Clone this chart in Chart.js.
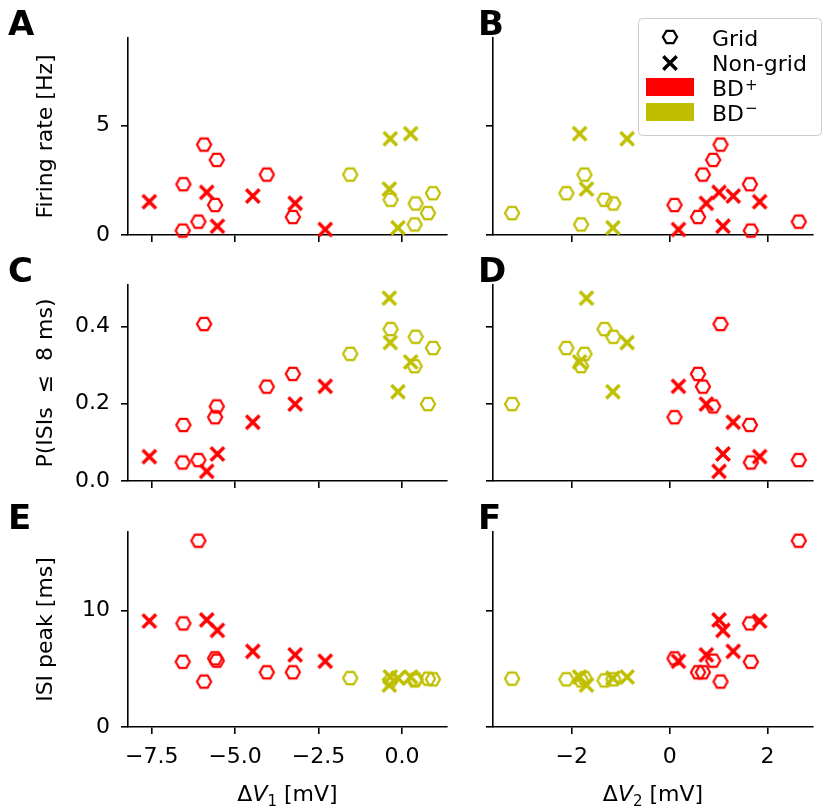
<!DOCTYPE html>
<html>
<head>
<meta charset="utf-8">
<script src="https://cdn.jsdelivr.net/npm/chart.js@4.4.1/dist/chart.umd.min.js"></script>
<style>
  html, body { margin: 0; padding: 0; background: #fff; }
  #wrap { position: relative; width: 826px; height: 810px; }
  #wrap canvas { position: absolute; left: 0; top: 0; }
</style>
</head>
<body>
<div id="wrap">
  <canvas id="pA" width="826" height="810"></canvas>
  <canvas id="pB" width="826" height="810"></canvas>
  <canvas id="pC" width="826" height="810"></canvas>
  <canvas id="pD" width="826" height="810"></canvas>
  <canvas id="pE" width="826" height="810"></canvas>
  <canvas id="pF" width="826" height="810"></canvas>
</div>
<script>
// --- data ---------------------------------------------------------------
// BD+ grid cells (red hexagons)
const bdPlusGridV1 = [-6.55, -6.57, -6.10, -5.93, -5.55, -5.60, -4.05, -3.27];
const bdPlusGridV2 = [1.64, 1.66, 2.64, 1.04, 0.89, 0.10, 0.68, 0.58];
const bdPlusGridRate = [2.32, 0.20, 0.61, 4.13, 3.43, 1.37, 2.76, 0.82];
const bdPlusGridPIsi = [0.145, 0.048, 0.054, 0.406, 0.193, 0.165, 0.244, 0.277];
const bdPlusGridPeak = [8.9, 5.6, 16.0, 3.9, 5.7, 5.9, 4.7, 4.7];

// BD+ non-grid cells (red crosses)
const bdPlusNonV1 = [-7.57, -5.85, -5.53, -4.47, -3.20, -2.30];
const bdPlusNonV2 = [1.84, 1.01, 1.09, 1.30, 0.75, 0.18];
const bdPlusNonRate = [1.52, 1.95, 0.40, 1.78, 1.45, 0.25];
const bdPlusNonPIsi = [0.063, 0.025, 0.070, 0.152, 0.199, 0.245];
const bdPlusNonPeak = [9.1, 9.2, 8.3, 6.5, 6.2, 5.65];

// BD- grid cells (olive hexagons)
const bdMinusGridV1 = [-1.55, -0.34, 0.41, 0.38, 0.93, 0.78];
const bdMinusGridV2 = [-1.74, -1.33, -1.15, -1.81, -2.11, -3.22];
const bdMinusGridRate = [2.76, 1.61, 1.44, 0.48, 1.91, 1.00];
const bdMinusGridPIsi = [0.329, 0.393, 0.373, 0.297, 0.344, 0.199];
const bdMinusGridPeak = [4.2, 4.0, 4.1, 4.0, 4.1, 4.15];

// BD- non-grid cells (olive crosses)
const bdMinusNonV1 = [-0.35, 0.26, -0.38, -0.12];
const bdMinusNonV2 = [-0.87, -1.84, -1.70, -1.16];
const bdMinusNonRate = [4.40, 4.63, 2.10, 0.33];
const bdMinusNonPIsi = [0.358, 0.308, 0.473, 0.231];
const bdMinusNonPeak = [4.3, 4.3, 3.6, 4.2];

// tick values
const tickV1 = [-7.5, -5, -2.5, 0];
const tickV2 = [-2, 0, 2];
const tickRate = [0, 5];
const tickPIsi = [0, 0.2, 0.4];
const tickPeak = [0, 10];

// --- look ------------------------------------------------------------------
const RED = "#ff0000";
const OLIVE = "#bfbf00";
const FONT = "'DejaVu Sans', sans-serif";
const FS = 22;

Chart.defaults.font.family = FONT;
Chart.defaults.color = "#000";

const el = (id) => document.getElementById(id);
const neg = (s) => s.replace("-", "\u2212");

// marker images (matplotlib 'H' hexagon and 'x')
function hexMarker(color) {
  const c = document.createElement("canvas");
  c.width = c.height = 22;
  const g = c.getContext("2d");
  g.strokeStyle = color;
  g.lineWidth = 2.2;
  g.beginPath();
  for (let k = 0; k < 6; k++) {
    const a = (k * Math.PI) / 3;
    const x = 11 + 7.1 * Math.cos(a), y = 11 + 7.1 * Math.sin(a);
    if (k === 0) g.moveTo(x, y); else g.lineTo(x, y);
  }
  g.closePath();
  g.stroke();
  return c;
}
function crossMarker(color) {
  const c = document.createElement("canvas");
  c.width = c.height = 22;
  const g = c.getContext("2d");
  g.strokeStyle = color;
  g.lineWidth = 3.4;
  g.beginPath();
  g.moveTo(11 - 6.7, 11 - 6.7); g.lineTo(11 + 6.7, 11 + 6.7);
  g.moveTo(11 + 6.7, 11 - 6.7); g.lineTo(11 - 6.7, 11 + 6.7);
  g.stroke();
  return c;
}

const groups = [
  { style: hexMarker(RED), v1: bdPlusGridV1, v2: bdPlusGridV2, rate: bdPlusGridRate, pIsi: bdPlusGridPIsi, peak: bdPlusGridPeak },
  { style: crossMarker(RED), v1: bdPlusNonV1, v2: bdPlusNonV2, rate: bdPlusNonRate, pIsi: bdPlusNonPIsi, peak: bdPlusNonPeak },
  { style: hexMarker(OLIVE), v1: bdMinusGridV1, v2: bdMinusGridV2, rate: bdMinusGridRate, pIsi: bdMinusGridPIsi, peak: bdMinusGridPeak },
  { style: crossMarker(OLIVE), v1: bdMinusNonV1, v2: bdMinusNonV2, rate: bdMinusNonRate, pIsi: bdMinusNonPIsi, peak: bdMinusNonPeak },
];

// plot-area edges in the page
const colLeft = [128, 493], colRight = [447, 813];
const rowTop = [38, 285, 532], rowBottom = [235, 481, 727];
const yAxisW = [99, 20];
const xAxisH = 50;

const xAxes = [
  { key: "v1", min: -8.21, max: 1.35, ticks: tickV1, fmt: (v) => neg(v.toFixed(1)), sub: "1" },
  { key: "v2", min: -3.61, max: 2.93, ticks: tickV2, fmt: (v) => neg(String(v)), sub: "2" },
];
const yAxes = [
  { key: "rate", min: 0, max: 9.0, ticks: tickRate, fmt: (v) => String(v), title: "Firing rate [Hz]" },
  { key: "pIsi", min: 0, max: 0.507, ticks: tickPIsi, fmt: (v) => v.toFixed(1), title: "P(ISIs  \u2264  8 ms)" },
  { key: "peak", min: 0, max: 16.75, ticks: tickPeak, fmt: (v) => String(v), title: "ISI peak [ms]" },
];

const panels = [
  { id: "pA", letter: "A", col: 0, row: 0 },
  { id: "pB", letter: "B", col: 1, row: 0, legend: true },
  { id: "pC", letter: "C", col: 0, row: 1 },
  { id: "pD", letter: "D", col: 1, row: 1 },
  { id: "pE", letter: "E", col: 0, row: 2 },
  { id: "pF", letter: "F", col: 1, row: 2 },
];

// --- extra drawing: panel letter, x title with italic V, legend -------------
function drawXTitle(ctx, area, sub) {
  const parts = [
    ["\u0394", FS + "px " + FONT, 0],
    ["V", "italic " + FS + "px " + FONT, 0],
    [sub, "15px " + FONT, 5],
    [" [mV]", FS + "px " + FONT, 0],
  ];
  ctx.textAlign = "left";
  ctx.textBaseline = "alphabetic";
  let w = 0;
  parts.forEach((p) => { ctx.font = p[1]; w += ctx.measureText(p[0]).width; });
  let x = (area.left + area.right) / 2 - w / 2;
  const y = area.bottom + 74;
  parts.forEach((p) => {
    ctx.font = p[1];
    ctx.fillText(p[0], x, y + p[2]);
    x += ctx.measureText(p[0]).width;
  });
}

function drawLegend(ctx) {
  const x0 = 638.5, y0 = 18.5, w = 183, h = 117, r = 4;
  ctx.beginPath();
  ctx.moveTo(x0 + r, y0);
  ctx.arcTo(x0 + w, y0, x0 + w, y0 + h, r);
  ctx.arcTo(x0 + w, y0 + h, x0, y0 + h, r);
  ctx.arcTo(x0, y0 + h, x0, y0, r);
  ctx.arcTo(x0, y0, x0 + w, y0, r);
  ctx.closePath();
  ctx.fillStyle = "rgba(255,255,255,0.8)";
  ctx.fill();
  ctx.strokeStyle = "#cccccc";
  ctx.lineWidth = 1;
  ctx.stroke();

  ctx.drawImage(hexMarker("#000"), 659, 26);
  ctx.drawImage(crossMarker("#000"), 659, 52);
  ctx.fillStyle = RED;
  ctx.fillRect(646, 78, 48, 18);
  ctx.fillStyle = OLIVE;
  ctx.fillRect(646, 103, 48, 18);

  ctx.fillStyle = "#000";
  ctx.textAlign = "left";
  ctx.textBaseline = "alphabetic";
  ctx.font = FS + "px " + FONT;
  ctx.fillText("Grid", 712, 46);
  ctx.fillText("Non-grid", 712, 71);
  const bdW = ctx.measureText("BD").width;
  ctx.fillText("BD", 712, 96);
  ctx.fillText("BD", 712, 121);
  ctx.font = "15px " + FONT;
  ctx.fillText("+", 712 + bdW + 1, 89.5);
  ctx.fillText("\u2212", 712 + bdW + 1, 113);
}

const panelExtras = {
  id: "panelExtras",
  afterDraw(chart, args, opts) {
    const ctx = chart.ctx;
    ctx.save();
    ctx.fillStyle = "#000";
    ctx.font = "bold 34px " + FONT;
    ctx.textAlign = "left";
    ctx.textBaseline = "alphabetic";
    ctx.fillText(opts.letter, opts.col === 0 ? 8 : 478, chart.chartArea.top - 3);
    if (opts.row === 2) drawXTitle(ctx, chart.chartArea, opts.sub);
    if (opts.legend) drawLegend(ctx);
    ctx.restore();
  },
};

// --- build the six panels ----------------------------------------------------
panels.forEach((p) => {
  const xa = xAxes[p.col];
  const ya = yAxes[p.row];

  const datasets = groups.map((g) => ({
    data: g[xa.key].map((x, i) => ({ x: x, y: g[ya.key][i] })),
    pointStyle: g.style,
    pointRadius: 8,
    showLine: false,
    clip: false,
  }));

  const axisLine = { display: true, color: "#000", width: 1.6 };
  const tickMarks = { drawOnChartArea: false, drawTicks: true, tickLength: 7, color: "#000", lineWidth: 1.6 };

  new Chart(el(p.id), {
    type: "scatter",
    data: { datasets },
    options: {
      responsive: false,
      animation: false,
      events: [],
      layout: {
        padding: {
          left: colLeft[p.col] - yAxisW[p.col],
          top: rowTop[p.row],
          right: 826 - colRight[p.col],
          bottom: 810 - rowBottom[p.row] - xAxisH,
        },
      },
      plugins: {
        legend: { display: false },
        tooltip: { enabled: false },
        panelExtras: { letter: p.letter, col: p.col, row: p.row, sub: xa.sub, legend: !!p.legend },
      },
      scales: {
        x: {
          type: "linear",
          min: xa.min,
          max: xa.max,
          afterFit: (s) => { s.height = xAxisH; },
          afterBuildTicks: (s) => { s.ticks = xa.ticks.map((v) => ({ value: v })); },
          border: axisLine,
          grid: tickMarks,
          ticks: {
            display: p.row === 2,
            autoSkip: false,
            maxRotation: 0,
            padding: 10,
            color: "#000",
            font: { size: FS },
            callback: (v) => xa.fmt(v),
          },
        },
        y: {
          type: "linear",
          min: ya.min,
          max: ya.max,
          afterFit: (s) => { s.width = yAxisW[p.col]; },
          afterBuildTicks: (s) => { s.ticks = ya.ticks.map((v) => ({ value: v })); },
          border: axisLine,
          grid: tickMarks,
          title: {
            display: p.col === 0,
            text: ya.title,
            color: "#000",
            font: { size: FS },
            padding: { top: 4, bottom: 4 },
          },
          ticks: {
            display: p.col === 0,
            autoSkip: false,
            padding: 11,
            color: "#000",
            font: { size: FS },
            callback: (v) => ya.fmt(v),
          },
        },
      },
    },
    plugins: [panelExtras],
  });
});
</script>
</body>
</html>
